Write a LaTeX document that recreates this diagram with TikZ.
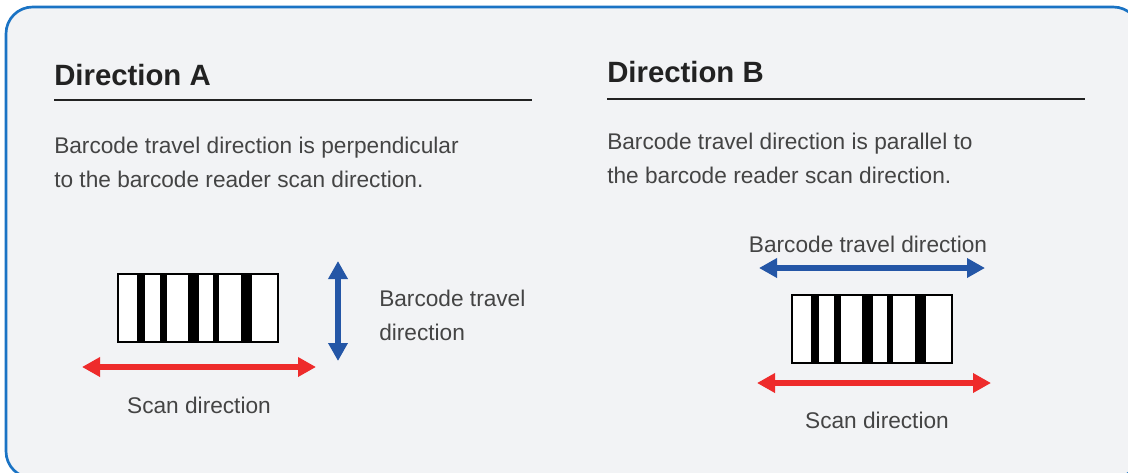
\documentclass[tikz,border=0pt]{standalone}
\usepackage{fontspec}
\setmainfont{Liberation Sans}
\usetikzlibrary{arrows.meta,positioning}

\definecolor{panelbg}{HTML}{F2F3F5}
\definecolor{panelblue}{HTML}{1A73C4}
\definecolor{travelblue}{HTML}{2456A6}
\definecolor{scanred}{HTML}{EE2B2B}
\definecolor{headtext}{HTML}{222222}
\definecolor{bodytext}{HTML}{444444}

\begin{document}
\begin{tikzpicture}[x=0.75pt, y=-0.75pt,
  heading/.style={anchor=base west, inner sep=0pt, text=headtext, font=\bfseries\fontsize{22}{26}\selectfont},
  body/.style={anchor=base west, inner sep=0pt, align=left, text=bodytext, font=\fontsize{17}{25.5}\selectfont},
  caption/.style={anchor=base, inner sep=0pt, text=bodytext, font=\fontsize{17}{25.5}\selectfont},
  barcode/.style={draw=black, fill=white, line width=1.1pt, minimum width=120pt, minimum height=51pt, inner sep=0pt},
  rule/.style={draw=headtext, line width=0.8pt},
  dirarrow/.style={{Triangle[length=13.5pt,width=14pt]}-{Triangle[length=13.5pt,width=14pt]}, line width=4pt},
]
\useasboundingbox (0,0) rectangle (1128,472);

% === PANEL ===
\fill[white] (0,0) rectangle (1128,472);
\draw[panelblue, fill=panelbg, line width=2pt, rounded corners=20pt] (6,7) rectangle (1140,478);

% === DIRECTION A ===
\node[heading] (headA) at (54,85) {Direction A};
\coordinate (ruleA-l) at (54,100);
\coordinate (ruleA-r) at (532,100);
\draw[rule] (ruleA-l) -- (ruleA-r);
% base of a two-line node sits on its last line
\node[body] (textA) at (54,187) {Barcode travel direction is perpendicular\\to the barcode reader scan direction.};

\node[barcode] (codeA) at (198,308) {};
\foreach \a/\b in {20/28,43/50,71/82,96/102,124/135}
  \fill (codeA.north west) ++(\a,0) rectangle ++({\b-\a},68);

\coordinate (travelA-t) at (338,261);
\coordinate (travelA-b) at (338,361);
\draw[dirarrow, travelblue] (travelA-t) -- (travelA-b);
\node[body] (travelA) at (379,340) {Barcode travel\\direction};

\coordinate (scanA-l) at (82,367);
\coordinate (scanA-r) at (316,367);
\draw[dirarrow, scanred] (scanA-l) -- (scanA-r);
\node[caption] (scanA) at (199,413) {Scan direction};

% === DIRECTION B ===
\node[heading] (headB) at (607,82) {Direction B};
\coordinate (ruleB-l) at (607,99);
\coordinate (ruleB-r) at (1085,99);
\draw[rule] (ruleB-l) -- (ruleB-r);
\node[body] (textB) at (607,183) {Barcode travel direction is parallel to\\the barcode reader scan direction.};

\node[caption] (travelB) at (868,252) {Barcode travel direction};
\coordinate (travelB-l) at (759,268);
\coordinate (travelB-r) at (985,268);
\draw[dirarrow, travelblue] (travelB-l) -- (travelB-r);

\node[barcode] (codeB) at (872,329) {};
\foreach \a/\b in {20/28,43/50,71/82,96/102,124/135}
  \fill (codeB.north west) ++(\a,0) rectangle ++({\b-\a},68);

\coordinate (scanB-l) at (757,383);
\coordinate (scanB-r) at (991,383);
\draw[dirarrow, scanred] (scanB-l) -- (scanB-r);
\node[caption] (scanB) at (877,428) {Scan direction};
\end{tikzpicture}
\end{document}
